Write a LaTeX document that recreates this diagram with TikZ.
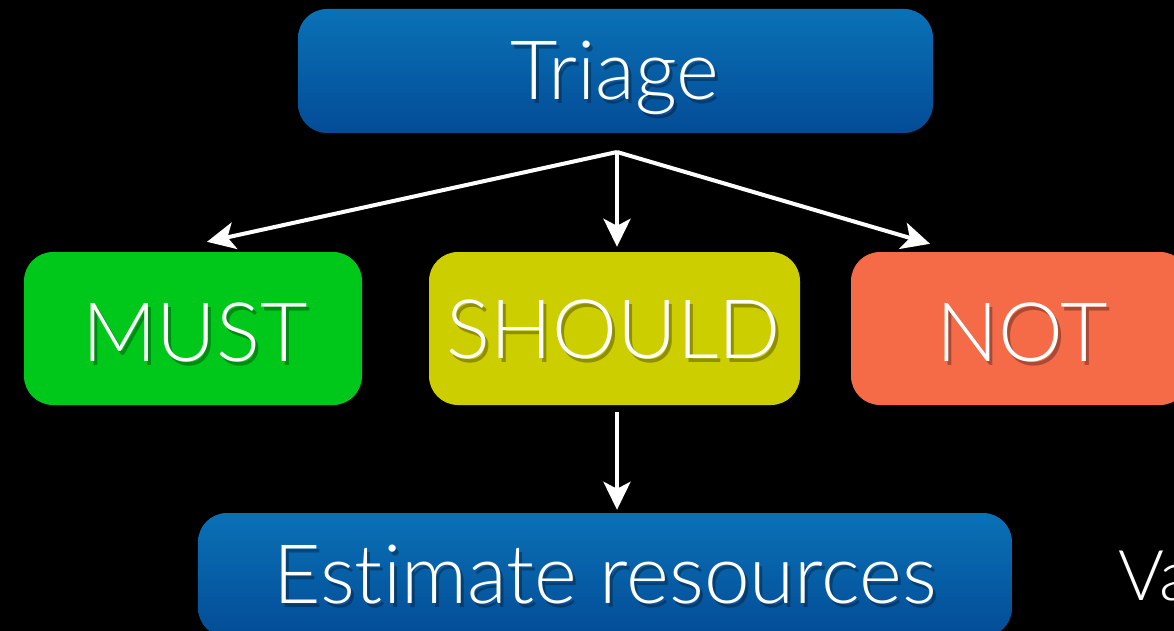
\documentclass[tikz,border=0pt]{standalone}
\usepackage{fontspec}
\setmainfont{Lato Light}[Ligatures={NoCommon}]
\usetikzlibrary{arrows.meta}
\definecolor{bluetop}{HTML}{0A71B6}
\definecolor{bluebot}{HTML}{034C96}
\definecolor{mustgreen}{HTML}{00C81A}
\definecolor{shouldyellow}{HTML}{CDCE00}
\definecolor{notorange}{HTML}{F56B48}
\tikzset{
  box/.style={rounded corners=29pt, inner sep=0pt, minimum height=153pt},
  bluebox/.style={box, top color=bluetop, bottom color=bluebot, minimum height=124pt},
  arr/.style={draw=white, line width=4pt, -{Stealth[length=28pt,width=27pt,inset=7pt]}},
  lbl/.style={text=white, font=\fontsize{82}{82}\selectfont, anchor=base, inner sep=0pt},
  shd/.style={lbl, text=black, opacity=0.3},
}
\newcommand\shlabel[4]{%
  \node[shd] (#1s) at (#2+3,#3+4) {#4};
  \node[lbl] (#1) at (#2,#3) {#4};
}
\begin{document}
\begin{tikzpicture}[x=1pt,y=-1pt]
\fill[black] (0,0) rectangle (1174,631);
\useasboundingbox (0,0) rectangle (1174,631);
% boxes
\node[bluebox, minimum width=635pt] (triage) at (615.5,71) {};
\node[box, fill=mustgreen, minimum width=338pt] (must) at (193,328.5) {};
\node[box, fill=shouldyellow, minimum width=371pt] (should) at (614.5,328.5) {};
\node[box, fill=notorange, minimum width=338pt] (not) at (1020,328.5) {};
\node[bluebox, minimum width=814pt] (est) at (605,575) {};
% labels
\shlabel{triageT}{615}{100}{Triage}
\shlabel{mustT}{195}{361}{MUST}
\shlabel{shouldT}{614}{358}{SHOULD}
\shlabel{notT}{1022}{361}{NOT}
\shlabel{estT}{605}{603}{Estimate resources}
\node[text=white, font=\fontsize{70}{70}\selectfont, anchor=base west, inner sep=0pt] (va) at (1118,600) {Va};
% connectors
\coordinate (branch) at (617,152);
\draw[arr] (branch) -- ([xshift=14pt,yshift=10pt]must.north);
\draw[arr] (branch) -- ([yshift=5pt]branch |- should.north);
\draw[arr] (branch) -- ([xshift=-90pt,yshift=8pt]not.north);
\draw[arr] ([yshift=-7pt]branch |- should.south) -- ([yshift=3pt]branch |- est.north);
\end{tikzpicture}
\end{document}
